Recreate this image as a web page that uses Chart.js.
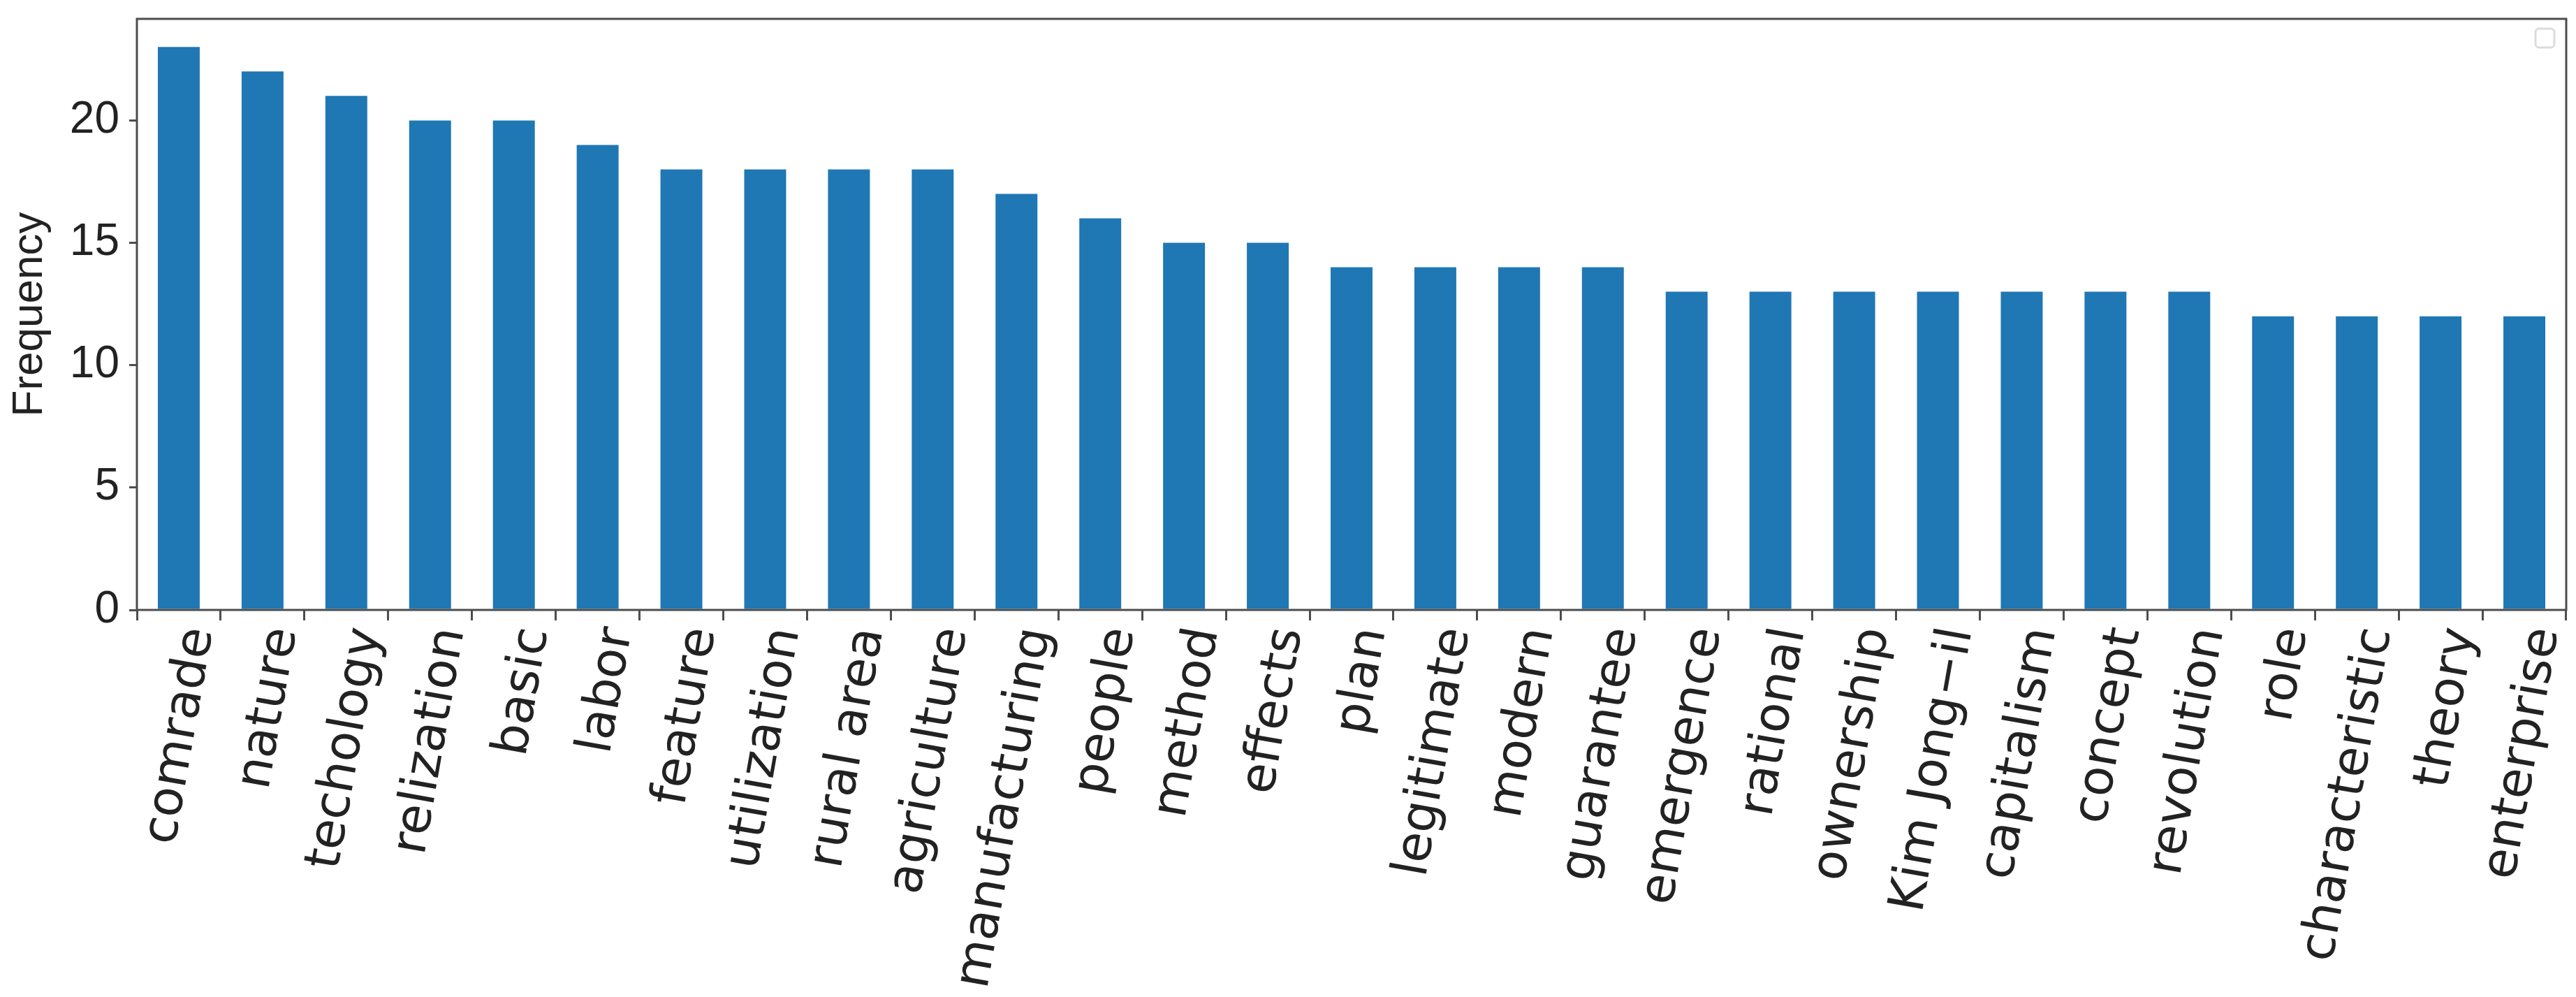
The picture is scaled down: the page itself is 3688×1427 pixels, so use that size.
<!DOCTYPE html>
<html>
<head>
<meta charset="utf-8">
<script src="https://cdn.jsdelivr.net/npm/chart.js@4.4.1/dist/chart.umd.min.js"></script>
<style>
  html,body{margin:0;padding:0;background:#fff;}
  #wrap{width:3688px;height:1427px;}
</style>
</head>
<body>
<div id="wrap"><canvas id="freqChart" width="3688" height="1427"></canvas></div>
<script>
// 단어 빈도
const words = ['comrade','nature','techology','relization','basic','labor','feature','utilization','rural area','agriculture',
  'manufacturing','people','method','effects','plan','legitimate','modern','guarantee','emergence','rational',
  'ownership','Kim Jong\u2212il','capitalism','concept','revolution','role','characteristic','theory','enterprise'];
const freq  = [23,22,21,20,20,19,18,18,18,18,17,16,15,15,14,14,14,14,13,13,13,13,13,13,13,12,12,12,12];
const yTicks = [0,5,10,15,20];
const yMax   = 24.15;

const BAR = '#1f77b4', INK = '#222', AXIS = '#4d4d4d';

// frame (top/right spines) + the empty legend box in the corner
const framePlugin = {
  id:'frame',
  afterDraw(chart){
    const {ctx,chartArea:a}=chart;
    ctx.save();
    ctx.strokeStyle=AXIS; ctx.lineWidth=3;
    ctx.strokeRect(a.left,a.top,a.right-a.left,a.bottom-a.top);
    ctx.strokeStyle='#dcdcdc'; ctx.lineWidth=3;
    ctx.beginPath(); ctx.roundRect(a.right-44,a.top+14,27,27,5); ctx.stroke();
    ctx.restore();
  }
};

new Chart(document.getElementById('freqChart'),{
  type:'bar',
  data:{labels:words,datasets:[{label:'Frequency',data:freq,backgroundColor:BAR,borderWidth:0,barPercentage:0.5,categoryPercentage:1}]},
  options:{
    responsive:false,animation:false,
    layout:{padding:{left:0,right:14,top:27,bottom:0}},
    plugins:{legend:{display:false},tooltip:{enabled:false}},
    scales:{
      x:{
        offset:true,
        grid:{display:true,drawOnChartArea:false,drawTicks:true,tickLength:15,color:AXIS,lineWidth:3},
        border:{display:false},
        ticks:{autoSkip:false,minRotation:80,maxRotation:80,padding:4,labelOffset:30,color:INK,
               font:{family:"'DejaVu Sans',sans-serif",size:71}},
        afterFit:s=>{s.height=1427-873;s.paddingLeft=0;s.paddingRight=0;}
      },
      y:{
        min:0,max:yMax,
        grid:{display:true,drawOnChartArea:false,drawTicks:true,tickLength:11,color:AXIS,lineWidth:3},
        border:{display:false},
        afterBuildTicks:s=>{s.ticks=yTicks.map(v=>({value:v}));},
        ticks:{includeBounds:false,padding:14,color:INK,font:{family:"'Liberation Sans',Arial,sans-serif",size:64}},
        title:{display:true,text:'Frequency',color:INK,padding:{top:6,bottom:0},
               font:{family:"'Liberation Sans',Arial,sans-serif",size:62}},
        afterFit:s=>{s.width=196;s.paddingTop=0;s.paddingBottom=0;}
      }
    }
  },
  plugins:[framePlugin]
});
</script>
</body>
</html>
